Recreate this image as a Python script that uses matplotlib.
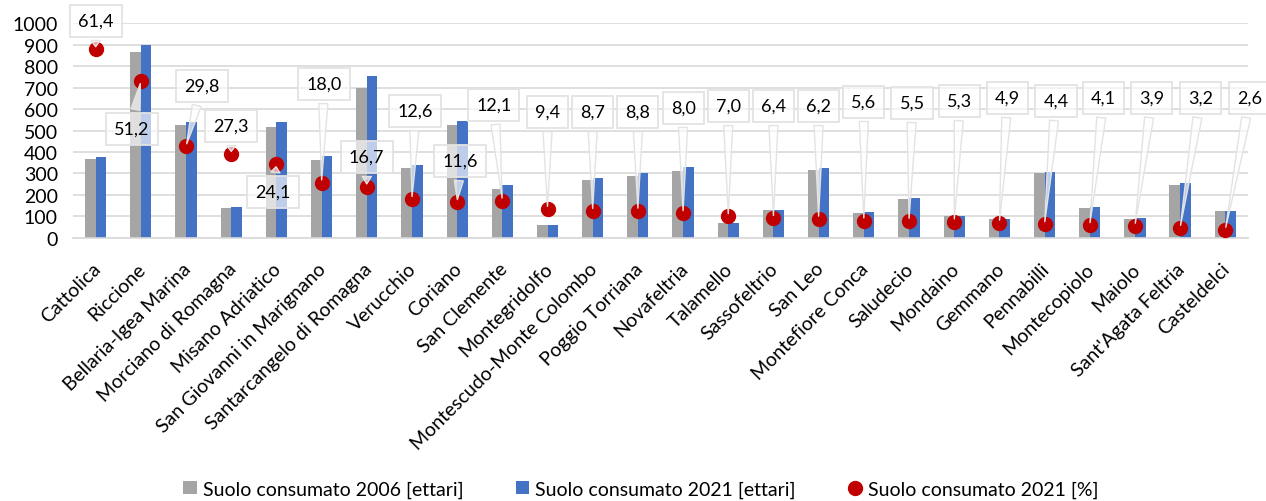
import matplotlib.pyplot as plt
import matplotlib.transforms as mtransforms
import numpy as np

plt.rcParams['font.family'] = ['Lato', 'DejaVu Sans']

comuni = ['Cattolica', 'Riccione', 'Bellaria-Igea Marina', 'Morciano di Romagna',
          'Misano Adriatico', 'San Giovanni in Marignano', 'Santarcangelo di Romagna',
          'Verucchio', 'Coriano', 'San Clemente', 'Montegridolfo',
          'Montescudo-Monte Colombo', 'Poggio Torriana', 'Novafeltria', 'Talamello',
          'Sassofeltrio', 'San Leo', 'Montefiore Conca', 'Saludecio', 'Mondaino',
          'Gemmano', 'Pennabilli', 'Montecopiolo', 'Maiolo', "Sant'Agata Feltria",
          'Casteldelci']
suolo_2006 = [366, 865, 526, 140, 516, 364, 699, 326, 524, 228, 62, 270, 288, 310,
              68, 130, 316, 118, 180, 102, 90, 301, 141, 90, 248, 126]
suolo_2021 = [377, 896, 538, 146, 538, 383, 755, 341, 543, 248, 62, 279, 302, 332,
              71, 130, 326, 121, 186, 102, 90, 305, 144, 93, 256, 127]
perc_2021 = [61.4, 51.2, 29.8, 27.3, 24.1, 18.0, 16.7, 12.6, 11.6, 12.1, 9.4, 8.7,
             8.8, 8.0, 7.0, 6.4, 6.2, 5.6, 5.5, 5.3, 4.9, 4.4, 4.1, 3.9, 3.2, 2.6]

# callout placement (x offset from category, y in primary-axis units)
lab_dx = [0, -0.2, 0.35, 0, -0.07, 0.05, 0, 0.07, 0.07, -0.19, 0, 0, 0, 0, 0, 0, 0,
          0, 0.07, 0.12, 0.18, 0.25, 0.3, 0.37, 0.45, 0.54]
lab_y = [1010, 507, 707, 521, 214, 716, 377, 591, 358, 619, 586, 586, 586, 605, 614,
         614, 614, 633, 628, 637, 651, 637, 651, 651, 651, 651]

grigio = '#a5a5a5'
blu = '#4472c4'
rosso = '#c00000'

fig = plt.figure(figsize=(12.66, 5.02), dpi=100)
ax = fig.add_axes([0.0577, 0.524, 0.928, 0.428])
ax2 = ax.twinx()

x = np.arange(len(comuni))
w = 0.235
b1 = ax.bar(x - w / 2, suolo_2006, w, color=grigio, label='Suolo consumato 2006 [ettari]', zorder=2)
b2 = ax.bar(x + w / 2, suolo_2021, w, color=blu, label='Suolo consumato 2021 [ettari]', zorder=2)

ax.set_ylim(0, 1000)
ax.set_yticks(range(0, 1001, 100))
ax.set_xlim(-0.5, len(comuni) - 0.5)
ax.yaxis.grid(True, color='#d9d9d9', linewidth=1.2, zorder=0)
ax.set_axisbelow(True)
for s in ['top', 'right', 'left']:
    ax.spines[s].set_visible(False)
ax.spines['bottom'].set_color('#d9d9d9')
ax.spines['bottom'].set_linewidth(1.2)
ax.tick_params(axis='both', length=0, labelsize=14, colors='black')
ax.tick_params(axis='y', pad=11)
ax.tick_params(axis='x', pad=12)
ax.set_xticks(x)
ax.set_xticklabels(comuni, rotation=45, ha='right', rotation_mode='anchor', fontsize=14)
shift = mtransforms.ScaledTranslation(-0.04, -0.05, fig.dpi_scale_trans)
for lbl in ax.get_xticklabels():
    lbl.set_transform(lbl.get_transform() + shift)

ax2.set_ylim(0, 70)
ax2.axis('off')
dots = ax2.plot(x, perc_2021, 'o', color=rosso, markersize=10, zorder=4,
                label='Suolo consumato 2021 [%]')

for i, p in enumerate(perc_2021):
    ax2.annotate(f'{p:.1f}'.replace('.', ','), xy=(i, p),
                 xytext=(i + lab_dx[i], lab_y[i]), textcoords=ax.transData,
                 ha='center', va='center', fontsize=13, zorder=5, annotation_clip=False,
                 bbox=dict(boxstyle='square,pad=0.45', fc=(1, 1, 1, 0.65), ec='#e3e3e3', lw=1.3),
                 arrowprops=dict(arrowstyle='wedge,tail_width=0.5,shrink_factor=0.5',
                                 fc=(1, 1, 1, 0.65), ec='#e3e3e3', lw=1.0))

fig.legend(handles=[b1, b2, dots[0]], loc='center', bbox_to_anchor=(0.506, 0.024),
           ncol=3, frameon=False, fontsize=14, handlelength=0.7, handleheight=0.7,
           handletextpad=0.3, columnspacing=2.7)

fig.savefig('out.png', dpi=100)
